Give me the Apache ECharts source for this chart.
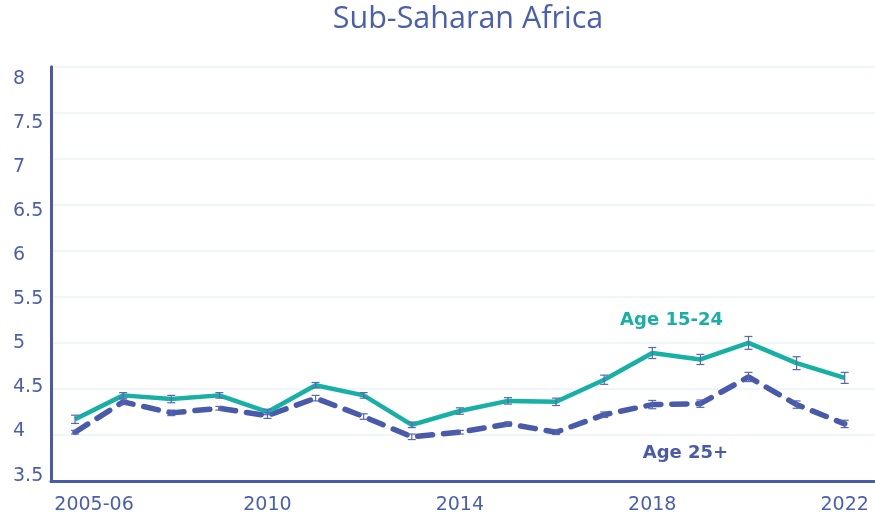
<!DOCTYPE html>
<html>
<head>
<meta charset="utf-8">
<script src="https://cdn.jsdelivr.net/npm/echarts@6/dist/echarts.min.js"></script>
<style>
html,body{margin:0;padding:0;background:#fff;}
#chart{width:875px;height:522px;}
</style>
</head>
<body>
<div id="chart"></div>
<script>
const years = [2006,2007,2008,2009,2010,2011,2012,2013,2014,2015,2016,2017,2018,2019,2020,2021,2022];
const youth = [4.17,4.43,4.39,4.43,4.25,4.54,4.43,4.11,4.26,4.37,4.36,4.60,4.89,4.82,5.00,4.78,4.62];
const adult = [4.03,4.36,4.24,4.29,4.21,4.40,4.20,3.98,4.03,4.12,4.03,4.22,4.33,4.34,4.63,4.33,4.12];
const youthErr = [0.045,0.03,0.04,0.03,0.03,0.03,0.03,0.03,0.035,0.035,0.04,0.05,0.06,0.055,0.07,0.07,0.06];
const adultErr = [0.02,0.03,0.03,0.02,0.03,0.03,0.03,0.03,0.02,0.02,0.025,0.03,0.045,0.04,0.05,0.04,0.04];
const xTickValues = [2006,2010,2014,2018,2022];
const xTickLabels = ['2005-06','2010','2014','2018','2022'];
const seriesNames = ['Age 15-24','Age 25+'];
const labelAnchors = [[2018.4,5.25],[2018.69,3.797]];

const TEAL = '#17b0a5';
const BLUE = '#4a5aab';
const TEXT = '#4b5fb1';
const ERR = '#5767b5';

const yRich = {};
for (let k = 0; k <= 9; k++) {
  const off = 12.3 - 1.97 * k;
  yRich['y' + k] = {
    color: TEXT, fontSize: 19, fontFamily: 'DejaVu Sans',
    padding: [Math.max(off, 0) * 2, 0, Math.max(-off, 0) * 2, 0]
  };
}

function errData(vals, errs) {
  return years.map((y, i) => [y, vals[i] - errs[i], vals[i] + errs[i]]);
}

function errRender(params, api) {
  const x = api.value(0);
  const lo = api.coord([x, api.value(1)]);
  const hi = api.coord([x, api.value(2)]);
  const w = 4;
  const style = {stroke: ERR, lineWidth: 1.2, fill: null};
  return {
    type: 'group',
    children: [
      {type: 'line', shape: {x1: lo[0], y1: lo[1], x2: hi[0], y2: hi[1]}, style: style},
      {type: 'line', shape: {x1: lo[0] - w, y1: lo[1], x2: lo[0] + w, y2: lo[1]}, style: style},
      {type: 'line', shape: {x1: hi[0] - w, y1: hi[1], x2: hi[0] + w, y2: hi[1]}, style: style}
    ]
  };
}

function nameLabel(idx, color) {
  return {
    symbol: 'circle', symbolSize: 1,
    itemStyle: {color: 'rgba(0,0,0,0)'},
    label: {show: true, position: 'inside', formatter: seriesNames[idx], color: color,
            fontSize: 18, fontWeight: 'bold', fontFamily: 'DejaVu Sans'},
    data: [{coord: labelAnchors[idx]}]
  };
}

const chart = echarts.init(document.getElementById('chart'));
chart.setOption({
  animation: false,
  backgroundColor: '#fff',
  title: {
    text: 'Sub-Saharan Africa',
    left: 463, top: -1, textAlign: 'center',
    textStyle: {color: TEXT, fontSize: 30.5, fontWeight: 'normal', fontFamily: 'Open Sans'}
  },
  grid: {left: 51, right: 0, top: 66.7, bottom: 41},
  xAxis: {
    type: 'value', min: 2005.5, max: 2022.63,
    axisLine: {show: true, onZero: false, lineStyle: {color: BLUE, width: 3}},
    axisTick: {show: false},
    splitLine: {show: false},
    axisLabel: {
      customValues: xTickValues,
      margin: 15,
      color: TEXT, fontSize: 19, fontFamily: 'DejaVu Sans',
      formatter: function (v) {
        const i = xTickValues.indexOf(v);
        const t = i >= 0 ? xTickLabels[i] : '';
        return i === 0 ? '{f|' + t + '}' : t;
      },
      rich: {f: {color: TEXT, fontSize: 19, fontFamily: 'DejaVu Sans', padding: [0, 0, 0, 38]}}
    }
  },
  yAxis: {
    type: 'value', min: 3.5, max: 8, interval: 0.5,
    axisLine: {show: true, lineStyle: {color: BLUE, width: 3}},
    axisTick: {show: false},
    splitLine: {lineStyle: {color: '#ebf3f5', width: 1.5}},
    axisLabel: {
      align: 'left', margin: 38,
      formatter: function (v) {
        const k = Math.round((8 - v) / 0.5);
        return '{y' + k + '|' + v + '}';
      },
      rich: yRich
    }
  },
  series: [
    {
      name: seriesNames[1], type: 'line', showSymbol: false,
      data: years.map((y, i) => [y, adult[i]]),
      lineStyle: {color: BLUE, width: 5.5, type: [15, 11], cap: 'round'},
      z: 2,
      markPoint: nameLabel(1, BLUE)
    },
    {
      name: seriesNames[0], type: 'line', showSymbol: false,
      data: years.map((y, i) => [y, youth[i]]),
      lineStyle: {color: TEAL, width: 4.5},
      z: 3,
      markPoint: nameLabel(0, TEAL)
    },
    {type: 'custom', renderItem: errRender, data: errData(adult, adultErr), z: 4, silent: true},
    {type: 'custom', renderItem: errRender, data: errData(youth, youthErr), z: 4, silent: true}
  ]
});
</script>
</body>
</html>
